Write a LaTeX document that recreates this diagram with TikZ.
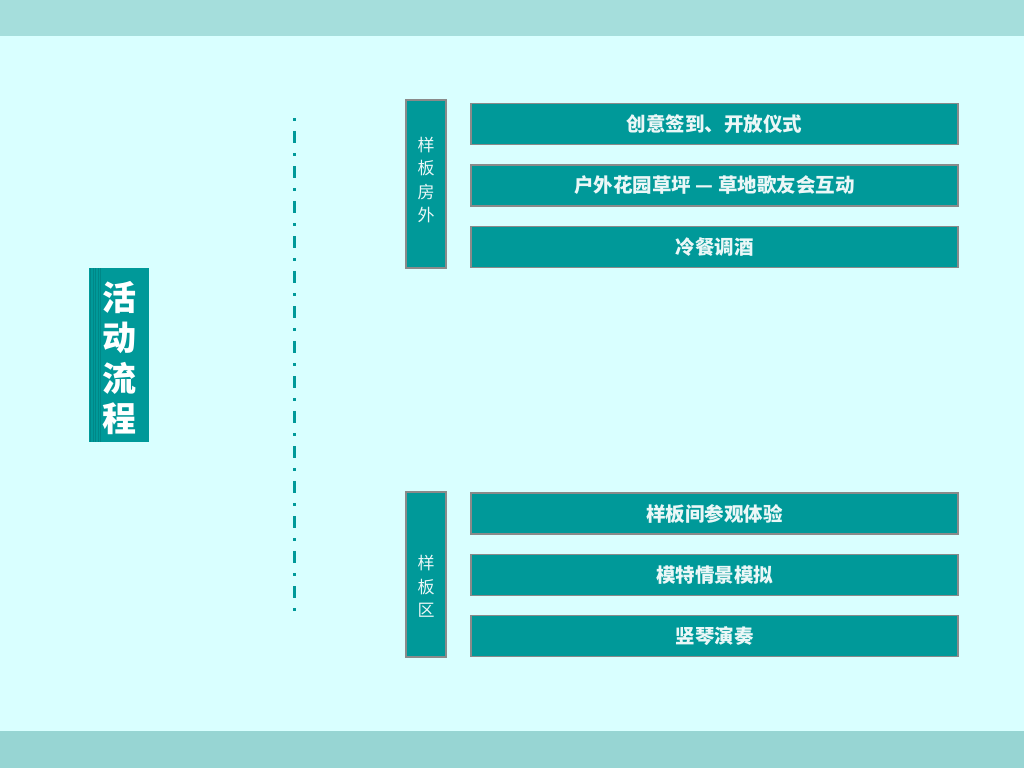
\documentclass[tikz,border=0pt]{standalone}
\usepackage{fontspec}
\setmainfont{Noto Sans CJK SC}
\usetikzlibrary{positioning}
\definecolor{fondo}{HTML}{D9FFFF}
\definecolor{franjaA}{HTML}{A5DEDC}
\definecolor{franjaB}{HTML}{97D5D3}
\definecolor{verde}{HTML}{009999}
\definecolor{borde}{HTML}{8A8A8A}

\begin{document}
\begin{tikzpicture}[x=1pt, y=-1pt,
            caja/.style={rectangle, draw=borde, line width=1.2pt, fill=verde, minimum width=487pt, minimum height=41pt, inner sep=0pt, text=white!92!verde, font=\bfseries\fontsize{19.5}{22}\selectfont},
            etiqueta/.style={rectangle, draw=borde, line width=1.2pt, fill=verde, minimum width=40pt, inner sep=0pt},
            vtexto/.style={align=center, inner sep=0pt, text=white!92!verde, font=\fontsize{17}{23.5}\selectfont}]

            % fondo y franjas
            \fill[fondo] (0,0) rectangle (1024,768);
            \fill[franjaA] (0,0) rectangle (1024,36);
            \fill[franjaB] (0,731) rectangle (1024,768);

            % titulo
            \node[rectangle, fill=verde, minimum width=60pt, minimum height=174pt, inner sep=0pt,
                path picture={
                    \foreach \d in {1.5,4,6.5,9,11.5}
                        \draw[verde!88!black, line width=0.7pt] ([xshift=\d pt]path picture bounding box.north west) -- ([xshift=\d pt]path picture bounding box.south west);
                }] (tit) at (119,355) {};
            \node[align=center, inner sep=0pt, text=white, font=\bfseries\fontsize{34}{40.5}\selectfont, yshift=-3pt] at (tit) {活\\动\\流\\程};

            % linea punteada
            \coordinate (lsup) at (294,118);
            \coordinate (linf) at (294,612);
            \draw[verde, line width=3pt, dash pattern=on 3pt off 10pt on 12pt off 10pt] (lsup) -- (linf);

            % grupo 1
            \node[etiqueta, minimum height=168pt] (ext) at (426,184) {};
            \node[vtexto, yshift=4pt] at (ext) {样\\板\\房\\外};
            \node[caja] (c1) at (714.5,124) {创意签到、开放仪式};
            \node[caja] (c2) at (714.5,185.5) {户外花园草坪 — 草地歌友会互动};
            \node[caja] (c3) at (714.5,247) {冷餐调酒};

            % grupo 2
            \node[etiqueta, minimum height=165pt] (zon) at (426,574.5) {};
            \node[vtexto, yshift=-12pt] at (zon) {样\\板\\区};
            \node[caja] (c4) at (714.5,513.5) {样板间参观体验};
            \node[caja] (c5) at (714.5,575) {模特情景模拟};
            \node[caja] (c6) at (714.5,636) {竖琴演奏};
        \end{tikzpicture}
\end{document}
